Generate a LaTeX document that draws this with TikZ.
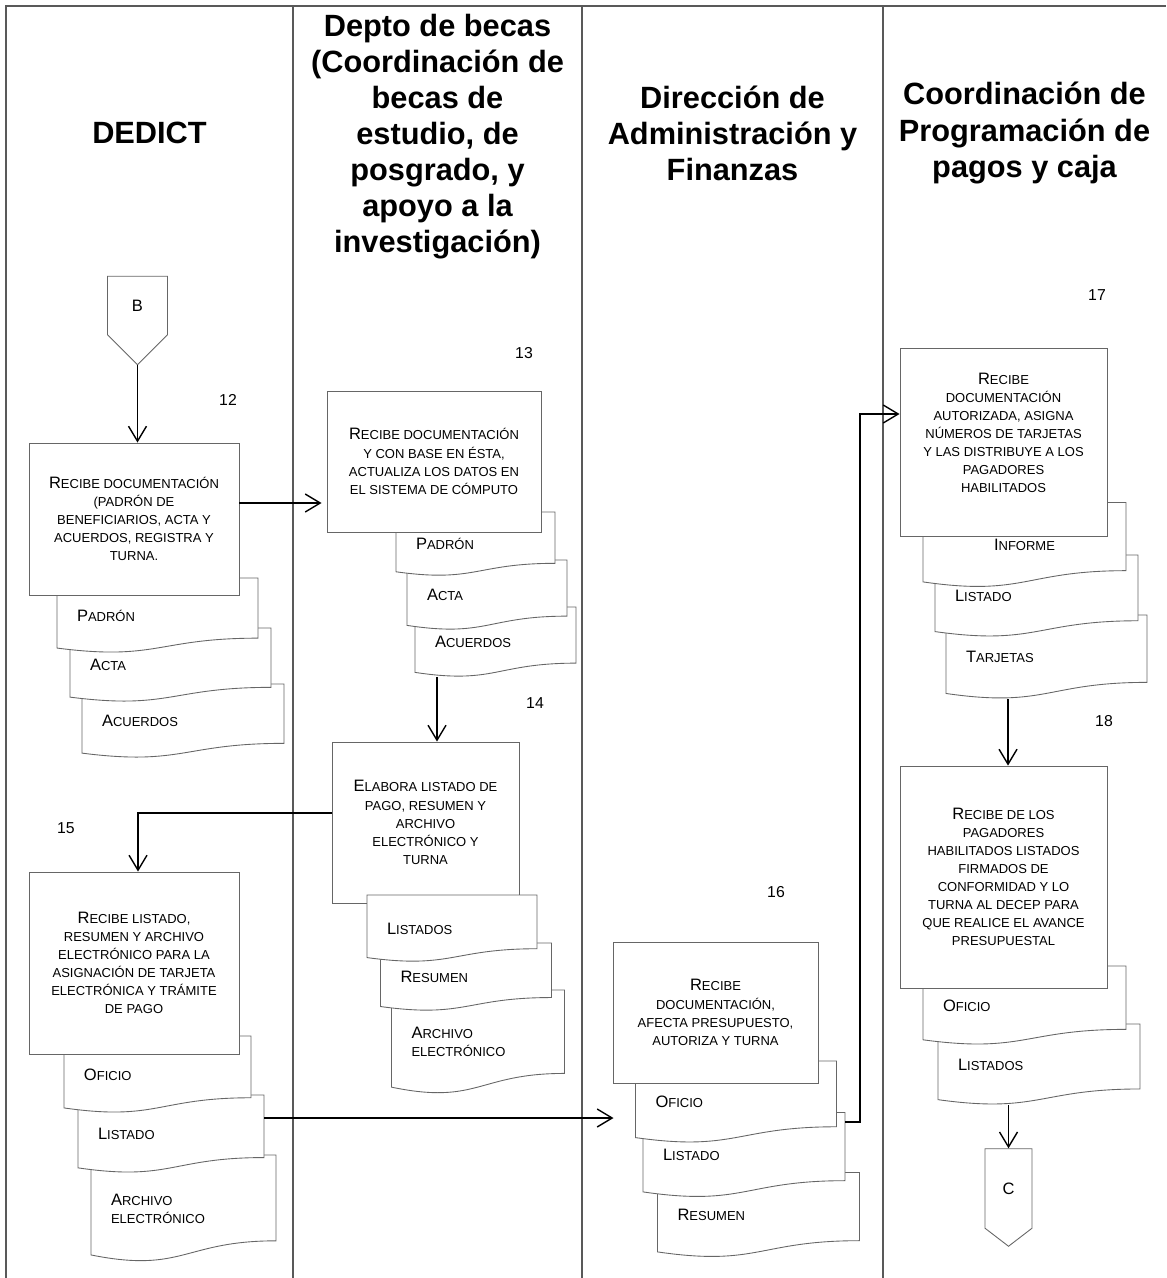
\documentclass[tikz,border=0pt]{standalone}
\usepackage{fontspec}
\setmainfont{Liberation Sans}
\usetikzlibrary{positioning,arrows.meta,shapes.symbols}

\newcommand{\ini}[1]{{\fontsize{9.4}{10}\selectfont #1}}
\newcommand{\bodyfont}{\fontsize{7.4}{10.3}\selectfont}

% document symbol (wavy bottom)
\makeatletter
\newdimen\docxl \newdimen\docxr \newdimen\docxm
\newdimen\docyt \newdimen\docyr \newdimen\docyc \newdimen\docyl
\pgfdeclareshape{docshape}{%
  \inheritsavedanchors[from=rectangle]%
  \inheritanchorborder[from=rectangle]%
  \inheritanchor[from=rectangle]{center}%
  \inheritanchor[from=rectangle]{text}%
  \inheritanchor[from=rectangle]{north}%
  \inheritanchor[from=rectangle]{south}%
  \inheritanchor[from=rectangle]{east}%
  \inheritanchor[from=rectangle]{west}%
  \inheritanchor[from=rectangle]{north east}%
  \inheritanchor[from=rectangle]{north west}%
  \inheritanchor[from=rectangle]{south east}%
  \inheritanchor[from=rectangle]{south west}%
  \backgroundpath{%
    \southwest \docxl=\pgf@x \docyl=\pgf@y
    \northeast \docxr=\pgf@x \docyt=\pgf@y
    \docxm=.5\docxl \advance\docxm by .5\docxr
    \pgf@yc=\docyt \advance\pgf@yc by -\docyl
    \docyr=\docyl \advance\docyr by .198\pgf@yc
    \docyc=\docyl \advance\docyc by -.1075\pgf@yc
    \advance\docyl by .066\pgf@yc
    \pgfpathmoveto{\pgfqpoint{\docxl}{\docyt}}%
    \pgfpathlineto{\pgfqpoint{\docxr}{\docyt}}%
    \pgfpathlineto{\pgfqpoint{\docxr}{\docyr}}%
    \pgfpathcurveto{\pgfqpoint{\docxm}{\docyr}}{\pgfqpoint{\docxm}{\docyc}}{\pgfqpoint{\docxl}{\docyl}}%
    \pgfpathclose
  }%
}
\makeatother

\begin{document}
\begin{tikzpicture}[
x=0.2mm,y=-0.2mm,
lane/.style={draw=black!65,line width=1.1pt},
hdr/.style={align=center,font=\bfseries\fontsize{17.5}{20.5}\selectfont},
act/.style={rectangle,draw=black!60,fill=white,line width=0.5pt,align=center,font=\bodyfont},
docu/.style={shape=docshape,draw=black!60,fill=white,line width=0.5pt,align=left,inner xsep=4mm,inner ysep=0pt,outer sep=0pt,font=\bodyfont},
con/.style={shape=signal,signal to=south,signal from=nowhere,draw=black!60,fill=white,line width=0.5pt,inner sep=0pt,font=\fontsize{9.4}{10}\selectfont},
num/.style={font=\fontsize{9}{10}\selectfont},
arr/.style={-{Straight Barb[length=3mm,width=3.6mm]},line width=0.8pt}
]
\useasboundingbox (0,0) rectangle (1166,1278);
% lanes
\draw[lane,double,double distance=0.6pt,line width=0.5pt] (6,258) -- (1166,258);
\draw[lane] (6,1278) -- (6,6) -- (1166,6);
\foreach \x in {293,582,883} \draw[lane] (\x,6) -- (\x,1278);
\node[hdr] (hdedict) at (149.5,133) {DEDICT};
\node[hdr] (hbecas) at (437.5,137) {Depto de becas\\(Coordinación de\\becas de\\estudio, de\\posgrado, y\\apoyo a la\\investigación)};
\node[hdr] (hdaf) at (732.5,133) {Dirección de\\Administración y\\Finanzas};
\node[hdr] (hcaja) at (1024.5,133) {Coordinación de\\Programación de\\pagos y caja};
% DEDICT, step 12
\node[con,minimum width=12mm,minimum height=12.8mm,signal pointer angle=90] (cb) at (137.5,305.5) {B};
\node[num] (n12) at (228,400) {12};
\node[docu,text width=32.4mm,minimum height=14.8mm] (acu12) at (183,721) {\ini{A}CUERDOS};
\node[docu,text width=32.2mm,minimum height=14.8mm] (act12) at (170.5,665) {\ini{A}CTA};
\node[docu,text width=32.2mm,minimum height=15mm] (pad12) at (157.5,615.5) {\ini{P}ADRÓN};
\node[act,minimum width=42mm,minimum height=30.4mm] (box12) at (134,519) {\ini{R}ECIBE DOCUMENTACIÓN\\(PADRÓN DE\\BENEFICIARIOS, ACTA Y\\ACUERDOS, REGISTRA Y\\TURNA.};
% becas, step 13
\node[num] (n13) at (524,353) {13};
\node[docu,text width=24.2mm,minimum height=14mm] (acu13) at (495.5,642) {\ini{A}CUERDOS};
\node[docu,text width=24mm,minimum height=14mm] (act13) at (487,595) {\ini{A}CTA};
\node[docu,text width=23.8mm,minimum height=12.8mm] (pad13) at (475.5,544) {\ini{P}ADRÓN};
\node[act,minimum width=42.8mm,minimum height=28.2mm] (box13) at (434,461.5) {\ini{R}ECIBE DOCUMENTACIÓN\\Y CON BASE EN ÉSTA,\\ACTUALIZA LOS DATOS EN\\EL SISTEMA DE CÓMPUTO};
% becas, step 14
\node[num] (n14) at (535,703) {14};
\node[act,minimum width=37.4mm,minimum height=32.2mm] (box14) at (425.5,822.5) {\ini{E}LABORA LISTADO DE\\PAGO, RESUMEN Y\\ARCHIVO\\ELECTRÓNICO Y\\TURNA};
\node[docu,text width=26.6mm,minimum height=20.8mm] (arc14) at (478,1042) {\ini{A}RCHIVO\\ELECTRÓNICO};
\node[docu,text width=26.2mm,minimum height=13.6mm] (res14) at (466,977) {\ini{R}ESUMEN};
\node[docu,text width=26mm,minimum height=13.4mm] (lis14) at (452,928.5) {\ini{L}ISTADOS};
% DEDICT, step 15
\node[num] (n15) at (66,828) {15};
\node[docu,text width=29mm,minimum height=21.4mm] (arc15) at (183.5,1208.5) {\ini{A}RCHIVO\\ELECTRÓNICO};
\node[docu,text width=29.2mm,minimum height=15.6mm] (lis15) at (171,1134) {\ini{L}ISTADO};
\node[docu,text width=29.4mm,minimum height=15.4mm] (ofi15) at (157.5,1074.5) {\ini{O}FICIO};
\node[act,minimum width=42mm,minimum height=36.4mm] (box15) at (134,963) {\ini{R}ECIBE LISTADO,\\RESUMEN Y ARCHIVO\\ELECTRÓNICO PARA LA\\ASIGNACIÓN DE TARJETA\\ELECTRÓNICA Y TRÁMITE\\DE PAGO};
% finanzas, step 16
\node[num] (n16) at (776,892) {16};
\node[docu,text width=32.4mm,minimum height=17mm] (res16) at (758.5,1215) {\ini{R}ESUMEN};
\node[docu,text width=32.4mm,minimum height=17mm] (lis16) at (744,1155) {\ini{L}ISTADO};
\node[docu,text width=32.2mm,minimum height=16.4mm] (ofi16) at (736,1102) {\ini{O}FICIO};
\node[act,minimum width=41mm,minimum height=28.2mm] (box16) at (715.5,1012.5) {\ini{R}ECIBE\\DOCUMENTACIÓN,\\AFECTA PRESUPUESTO,\\AUTORIZA Y TURNA};
% caja, step 17
\node[num] (n17) at (1097,295) {17};
\node[docu,text width=32.2mm,minimum height=16.8mm] (tar17) at (1046.5,657) {\ini{T}ARJETAS};
\node[docu,text width=32.6mm,minimum height=16.4mm] (lis17) at (1036.5,596) {\ini{L}ISTADO};
\node[docu,text width=32.6mm,minimum height=17mm,align=center] (inf17) at (1024.5,545) {\ini{I}NFORME};
\node[act,minimum width=41.4mm,minimum height=37.6mm,text depth=3.6mm] (box17) at (1003.5,442) {\ini{R}ECIBE\\DOCUMENTACIÓN\\AUTORIZADA, ASIGNA\\NÚMEROS DE TARJETAS\\Y LAS DISTRIBUYE A LOS\\PAGADORES\\HABILITADOS};
% caja, step 18
\node[num] (n18) at (1104,721) {18};
\node[docu,text width=32.4mm,minimum height=16.2mm] (lis18) at (1039,1064.5) {\ini{L}ISTADOS};
\node[docu,text width=32.6mm,minimum height=15.8mm] (ofi18) at (1024.5,1005.5) {\ini{O}FICIO};
\node[act,minimum width=41.4mm,minimum height=44.4mm] (box18) at (1003.5,877) {\ini{R}ECIBE DE LOS\\PAGADORES\\HABILITADOS LISTADOS\\FIRMADOS DE\\CONFORMIDAD Y LO\\TURNA AL DECEP PARA\\QUE REALICE EL AVANCE\\PRESUPUESTAL};
\node[con,minimum width=9.4mm,minimum height=16.8mm,signal pointer angle=105] (cc) at (1008.5,1188.5) {C};
% flow
\draw[arr] (cb.south) -- (cb.south |- box12.north);
\draw[arr,shorten >=1mm] ([yshift=3.2mm]box12.east) -- ([yshift=3.2mm]box12.east -| box13.west);
\draw[arr] ([xshift=4.4mm]acu13.south west) -- ([xshift=4.4mm]acu13.south west |- box14.north);
\draw[arr] ([yshift=1.9mm]box14.west) -| ([xshift=0.8mm]box15.north);
\draw[arr,shorten >=4.4mm] ([yshift=3.2mm]lis15.east) -- ([yshift=3.2mm]lis15.east -| ofi16.west);
\draw[arr] ([yshift=6.6mm]lis16.east) -- ++(3mm,0) |- ([yshift=5.6mm]box17.west);
\draw[arr] ([xshift=0.9mm]box18.north |- tar17.south) -- ([xshift=0.9mm]box18.north);
\draw[arr] (cc.north |- lis18.south) -- (cc.north);
\end{tikzpicture}
\end{document}
